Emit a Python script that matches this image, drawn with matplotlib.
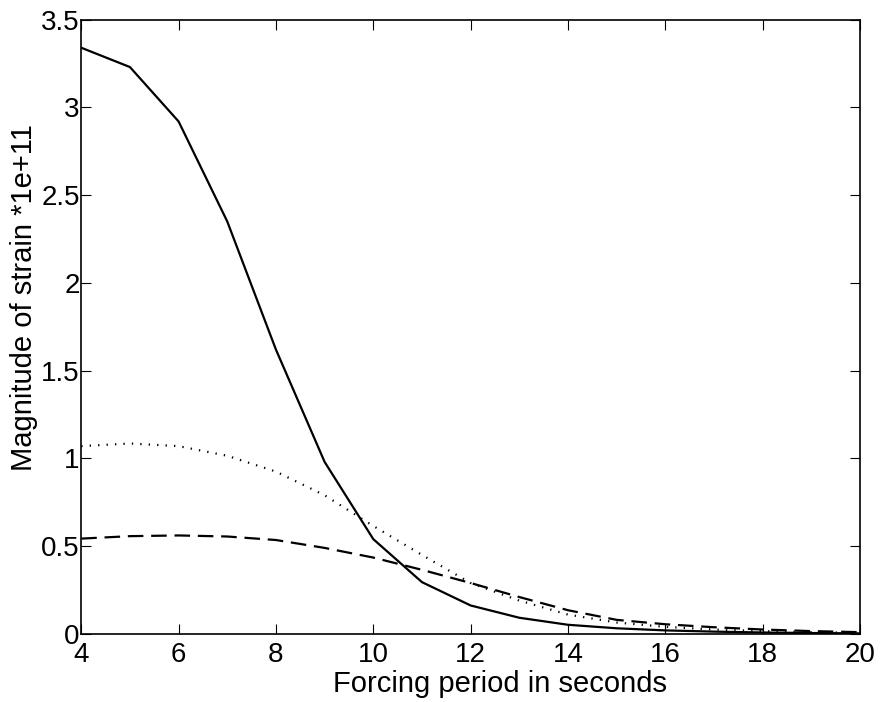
import matplotlib
matplotlib.use("Agg")
import matplotlib.pyplot as plt

# periode de forcage (s)
period = [4, 5, 6, 7, 8, 9, 10, 11, 12, 13, 14, 15, 16, 17, 18, 19, 20]

# amplitude de la deformation *1e+11
strain_solid = [3.34, 3.23, 2.92, 2.35, 1.62, 0.98, 0.54, 0.295, 0.162, 0.092,
                0.052, 0.032, 0.02, 0.013, 0.008, 0.005, 0.003]
strain_dotted = [1.07, 1.085, 1.07, 1.015, 0.925, 0.79, 0.615, 0.45, 0.29, 0.19,
                 0.11, 0.065, 0.04, 0.025, 0.016, 0.01, 0.006]
strain_dashed = [0.543, 0.557, 0.561, 0.555, 0.535, 0.49, 0.435, 0.365, 0.29, 0.21,
                 0.135, 0.08, 0.055, 0.038, 0.025, 0.016, 0.01]

xticks = [4, 6, 8, 10, 12, 14, 16, 18, 20]
yticks = [0, 0.5, 1, 1.5, 2, 2.5, 3, 3.5]

plt.rcParams['font.family'] = ['Liberation Sans', 'DejaVu Sans']

fig = plt.figure(figsize=(8.83, 7.02), dpi=100)
ax = fig.add_axes([0.092, 0.097, 0.882, 0.875])

ax.plot(period, strain_solid, color='black', linewidth=1.6, linestyle='-')
ax.plot(period, strain_dotted, color='black', linewidth=1.6, linestyle=(0, (0.6, 3.2)))
ax.plot(period, strain_dashed, color='black', linewidth=1.6, linestyle=(0, (7, 3.5)))

ax.set_xlim(4, 20)
ax.set_ylim(0, 3.5)
ax.set_xticks(xticks)
ax.set_yticks(yticks)
ax.set_xticklabels([str(t) for t in xticks])
ax.set_yticklabels(['0', '0.5', '1', '1.5', '2', '2.5', '3', '3.5'])
ax.tick_params(direction='in', length=7, width=0.8, top=True, right=True,
               labelsize=20)
ax.tick_params(axis='x', pad=6)
ax.tick_params(axis='y', pad=1)
for s in ax.spines.values():
    s.set_linewidth(1.2)

# les titres sont decales comme sur l'original (export matlab)
ax.set_xlabel('Forcing period in seconds', fontsize=21)
ax.xaxis.set_label_coords(0.538, -0.058)
ax.set_ylabel('Magnitude of strain *1e+11', fontsize=21)
ax.yaxis.set_label_coords(-0.056, 0.547)

fig.savefig('out.png', dpi=100)
